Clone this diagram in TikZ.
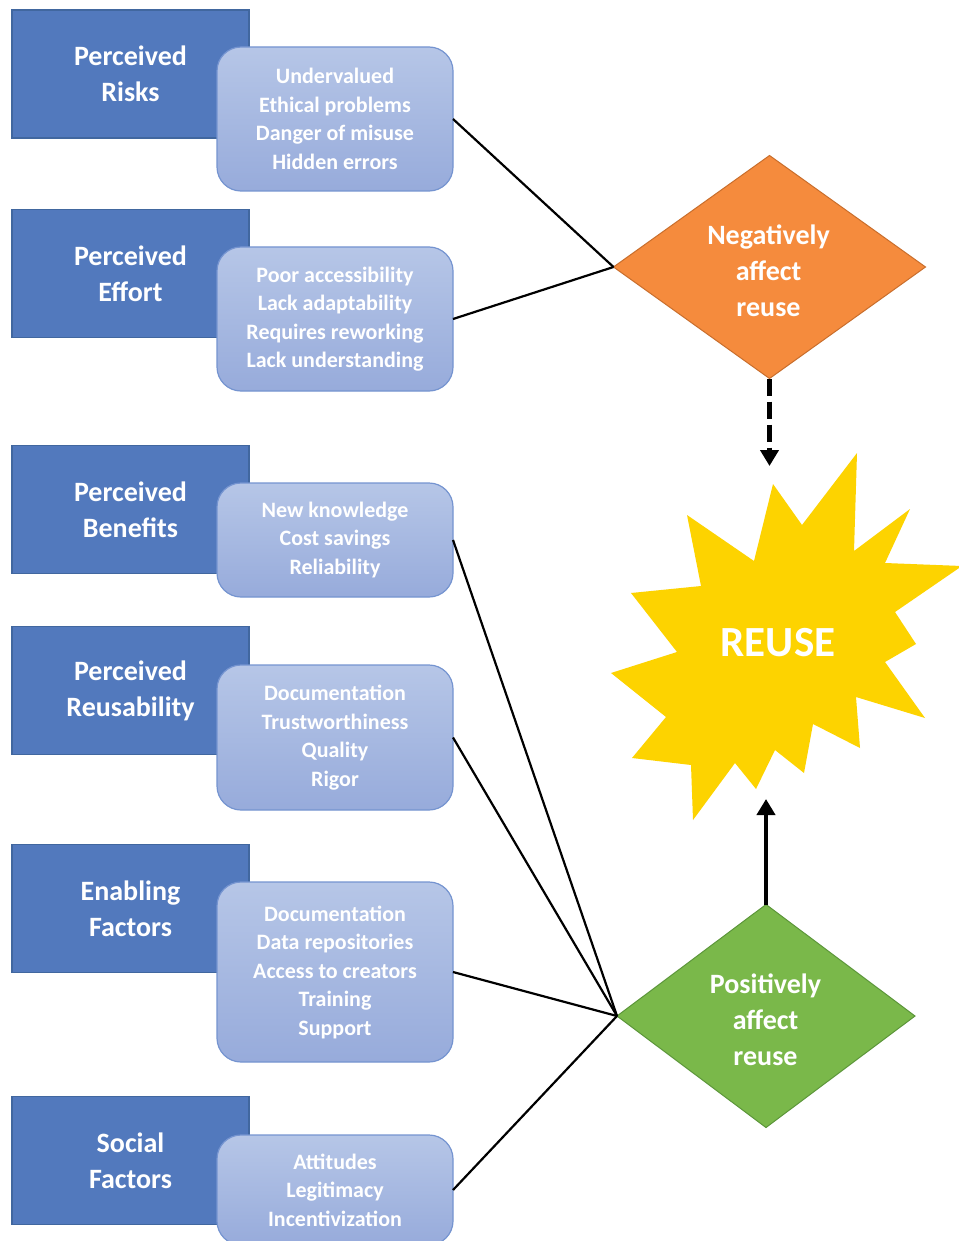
\documentclass[tikz,border=0pt]{standalone}
\usepackage{fontspec}
\setmainfont{Carlito}
\usetikzlibrary{shapes.geometric,arrows.meta}
\definecolor{darkblue}{HTML}{5279BD}
\definecolor{darkblueb}{HTML}{41679F}
\definecolor{litetop}{HTML}{B6C6E7}
\definecolor{litebot}{HTML}{97ABDB}
\definecolor{liteb}{HTML}{7594D0}
\definecolor{orng}{HTML}{F58B3D}
\definecolor{orngb}{HTML}{C96E2C}
\definecolor{grn}{HTML}{7AB84A}
\definecolor{grnb}{HTML}{5C963A}
\definecolor{yel}{HTML}{FDD300}
\tikzset{
  darkbox/.style={draw=darkblueb, line width=1.2pt, fill=darkblue, minimum width=237pt, minimum height=128pt, inner sep=0pt, outer sep=0pt, text=white, align=center, font=\fontsize{28}{36}\selectfont\bfseries},
  litebox/.style={draw=liteb, line width=1.2pt, top color=litetop, bottom color=litebot, rounded corners=24pt, minimum width=236pt, inner sep=0pt, outer sep=0pt, text=white, align=center, font=\fontsize{22}{28.5}\selectfont\bfseries},
  dia/.style={diamond, aspect=1.4, inner sep=0pt, outer sep=0pt, line width=1pt},
  diatext/.style={text=white, align=center, inner sep=0pt, font=\fontsize{28}{36}\selectfont\bfseries},
  link/.style={line width=2.2pt, black},
  bigarrow/.style={line width=4.8pt, black, -{Triangle[length=16pt,width=18pt]}}
}
\begin{document}
\begin{tikzpicture}[x=1pt,y=-1pt]
\useasboundingbox (0,0) rectangle (958,1241);
\fill[white] (0,0) rectangle (958,1241);
% dark title boxes
\node[darkbox] (t1) at (130.5,74) {Perceived\\Risks};
\node[darkbox] (t2) at (130.5,273.5) {Perceived\\Effort};
\node[darkbox] (t3) at (130.5,509.5) {Perceived\\Benefits};
\node[darkbox] (t4) at (130.5,690.5) {Perceived\\Reusability};
\node[darkbox] (t5) at (130.5,908.5) {Enabling\\Factors};
\node[darkbox] (t6) at (130.5,1160.5) {Social\\Factors};
% light detail boxes
\node[litebox, minimum height=144pt] (d1) at (335,119) {Undervalued\\Ethical problems\\Danger of misuse\\Hidden errors};
\node[litebox, minimum height=144pt] (d2) at (335,319) {Poor accessibility\\Lack adaptability\\Requires reworking\\Lack understanding};
\node[litebox, minimum height=114pt] (d3) at (335,540) {New knowledge\\Cost savings\\Reliability};
\node[litebox, minimum height=145pt] (d4) at (335,737.5) {Documentation\\Trustworthiness\\Quality\\Rigor};
\node[litebox, minimum height=180pt] (d5) at (335,972) {Documentation\\Data repositories\\Access to creators\\Training\\Support};
\node[litebox, minimum height=110pt] (d6) at (335,1190) {Attitudes\\Legitimacy\\Incentivization};
% diamonds
\node[dia, draw=orngb, fill=orng, minimum width=312pt, minimum height=223pt] (neg) at (769.5,267) {};
\node[diatext] (negtxt) at (768.5,271) {Negatively\\affect\\reuse};
\node[dia, draw=grnb, fill=grn, minimum width=298pt, minimum height=223pt] (pos) at (766,1016) {};
\node[diatext] (postxt) at (765.5,1020) {Positively\\affect\\reuse};
% starburst
\fill[yel] (857,453) -- (854,551) -- (910,509) -- (885,563) -- (962,566) -- (895,612) -- (916,644) -- (885,662) -- (925,718) -- (856,697) -- (860,748) -- (813,724) -- (804,773) -- (775,750) -- (756,789) -- (735,763) -- (693,820) -- (691,765) -- (632,758) -- (666,717) -- (611,673) -- (677,652) -- (631,593) -- (701,586) -- (687,515) -- (754,561) -- (773,484) -- (802,525) -- cycle;
\node[text=white, font=\fontsize{43}{50}\selectfont\bfseries] (reuse) at (778,643) {REUSE};
\coordinate (tipN) at (769.5,466);
\coordinate (tipP) at (766,799);
% connectors
\draw[link] (d1.east) -- (neg.west);
\draw[link] (d2.east) -- (neg.west);
\draw[link] (d3.east) -- (pos.west);
\draw[link] (d4.east) -- (pos.west);
\draw[link] (d5.east) -- (pos.west);
\draw[link] (d6.east) -- (pos.west);
\draw[bigarrow, dash pattern=on 17pt off 6pt] (neg.south) -- (tipN);
\draw[bigarrow] (pos.north) -- (tipP);
\end{tikzpicture}
\end{document}
